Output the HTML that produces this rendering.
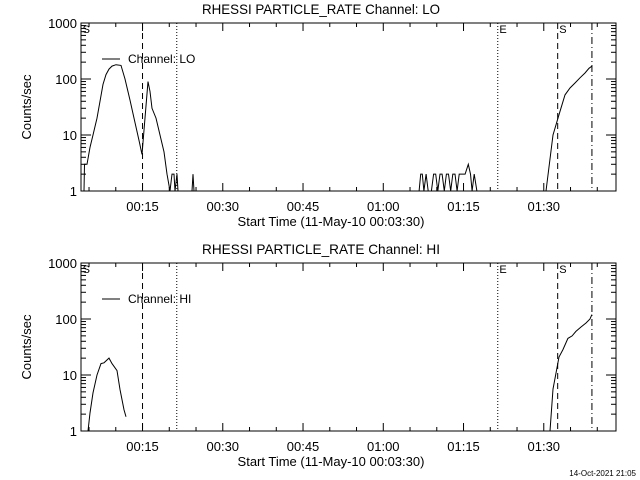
<!DOCTYPE html>
<html><head><meta charset="utf-8"><style>
html,body{margin:0;padding:0;background:#fff;}
svg{display:block;font-family:"Liberation Sans",sans-serif;}
</style></head><body>
<svg id="c" width="640" height="480" viewBox="0 0 640 480"></svg>
<script>
const xTickLabels=["00:15","00:30","00:45","01:00","01:15","01:30"];
const xTickTimes=[15,30,45,60,75,90];
const yTickLabels=["1","10","100","1000"];
const yTickValues=[1,10,100,1000];
const loTimes=[4.06,4.15,4.62,5.18,5.74,6.49,7.05,7.61,8.17,8.73,9.29,10.04,10.98,11.72,12.66,13.41,14.34,14.9,15.46,16.02,16.4,16.77,17.52,18.27,19.01,19.57,20.14,20.51,20.88,21.07,21.44,21.63,null,24.25,24.43,24.62,null,
66.7,67.0,67.3,67.6,68.0,68.4,69.0,69.4,69.8,70.2,70.6,71.0,71.4,71.8,72.2,72.6,73.0,73.4,73.8,74.2,75.0,75.3,75.9,76.3,76.6,77.0,77.5,null,
90.42,91.72,92.85,93.97,94.9,95.84,96.77,97.7,98.45,99.0];
const loValues=[1,3,3,6,10,20,40,80,120,150,170,180,175,100,42,20,8,4.5,20,90,60,30,20,10,5,2,1,2,2,1,2,1,null,1,2,1,null,
1,2,2,1,2,1,1,2,2,1,2,2,1,2,2,1,2,2,1,2,2,2,3,2,1,2,1,null,
1,10,23,52,69,85,105,128,155,170];
const hiTimes=[4.81,5.18,5.74,6.49,7.24,7.8,8.73,9.29,10.23,10.79,11.54,11.91,null,91.17,91.72,92.85,93.6,94.5,95.3,96.0,96.96,97.9,98.64,99.0];
const hiValues=[1,2.1,4.8,10,16,16.5,20,16,12,5.5,2.4,1.8,null,1,5.6,21,28.5,45,50,60,72,85,100,120];
const markerTimes=[15,21.4,81.4,92.6,99.0];
const markerStyles=["6,4","1,2","1,2","6,4","7,3,1,3"];

const svg=document.getElementById('c');
const NS='http://www.w3.org/2000/svg';
const X0=81,X1=616,T0=3.5,T1=103.5;
function xs(t){return X0+(t-T0)*(X1-X0)/(T1-T0);}
function mk(tag,attrs,parent){const e=document.createElementNS(NS,tag);for(const k in attrs)e.setAttribute(k,attrs[k]);(parent||svg).appendChild(e);return e;}

function panel(top,name,chan,times,vals){
  const bot=top+168;
  const ys=v=>bot-56*Math.log10(v);
  const g=mk('g',{});
  
  
  const t=mk('text',{x:321,y:top-9,'text-anchor':'middle','font-size':14,textLength:238,lengthAdjust:'spacingAndGlyphs'},g);
  t.textContent='RHESSI PARTICLE_RATE Channel: '+chan;
  
  
  const box=mk('rect',{x:X0,y:top,width:X1-X0,height:168,fill:'none',stroke:'#000','stroke-width':1},g);
  
  
  for(let d=0;d<3;d++){for(let m=1;m<10;m++){const v=Math.pow(10,d)*m;const y=ys(v);const L=(m===1)?10:5;
    mk('line',{x1:X0,x2:X0+L,y1:y,y2:y,stroke:'#000'},g);mk('line',{x1:X1-L,x2:X1,y1:y,y2:y,stroke:'#000'},g);}}
  yTickValues.forEach((v,i)=>{const tx=mk('text',{x:77,y:ys(v)+5,'text-anchor':'end','font-size':13},g);tx.textContent=yTickLabels[i];
    
    });
  const yt=mk('text',{x:0,y:0,'text-anchor':'middle','font-size':13,transform:'translate(31,'+(top+84)+') rotate(-90)'},g);
  yt.textContent='Counts/sec';
  
  
  for(let tm=5;tm<=103;tm+=5){const x=xs(tm);const L=(tm%15===0)?8:4;
    mk('line',{x1:x,x2:x,y1:bot,y2:bot-L,stroke:'#000'},g);mk('line',{x1:x,x2:x,y1:top,y2:top+L,stroke:'#000'},g);}
  xTickTimes.forEach((tm,i)=>{const tx=mk('text',{x:xs(tm),y:bot+20,'text-anchor':'middle','font-size':13},g);tx.textContent=xTickLabels[i];
    
    });
  const xt=mk('text',{x:331,y:bot+35,'text-anchor':'middle','font-size':13},g);
  xt.textContent='Start Time (11-May-10 00:03:30)';
  
  
  markerTimes.forEach((tm,i)=>{const l=mk('line',{x1:xs(tm),x2:xs(tm),y1:top,y2:bot,stroke:'#000','stroke-dasharray':markerStyles[i]},g);
    
    });
  [['S',xs(3.8)],['E',xs(81.7)],['S',xs(92.9)]].forEach(a=>{const tx=mk('text',{x:a[1],y:top+10,'font-size':11},g);tx.textContent=a[0];
    
    });
  mk('line',{x1:102,x2:120,y1:top+36,y2:top+36,stroke:'#000'},g);
  const lt=mk('text',{x:128,y:top+40,'font-size':12},g);lt.textContent='Channel: '+chan;
  
  
  let d='',pen=false;
  for(let i=0;i<times.length;i++){if(times[i]===null||vals[i]===null){pen=false;continue;}
    d+=(pen?'L':'M')+xs(times[i]).toFixed(1)+' '+ys(vals[i]).toFixed(1)+' ';pen=true;}
  const p=mk('path',{d:d,fill:'none',stroke:'#000','stroke-width':1},g);
  
  
}
panel(23,'lo-channel','LO',loTimes,loValues);
panel(263,'hi-channel','HI',hiTimes,hiValues);
const ts=mk('text',{x:636,y:476,'text-anchor':'end','font-size':8});
ts.textContent='14-Oct-2021 21:05';


</script>
</body></html>
